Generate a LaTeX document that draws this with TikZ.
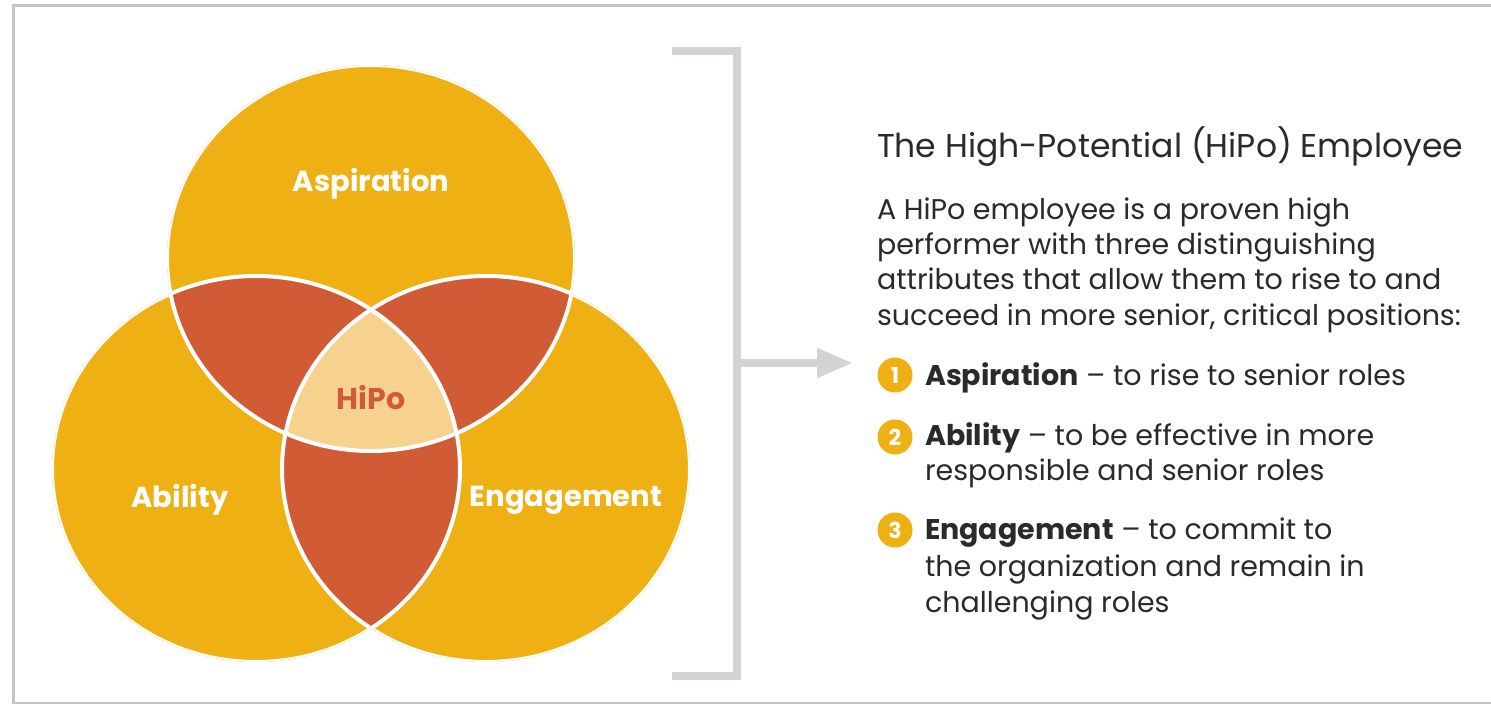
\documentclass[tikz,border=0pt]{standalone}
\usepackage{fontspec}
\setmainfont{Poppins}
\usetikzlibrary{arrows.meta}
\definecolor{gold}{HTML}{EFB014}
\definecolor{rust}{HTML}{D05B35}
\definecolor{cream}{HTML}{F6D28E}
\definecolor{framegray}{HTML}{C4C4C4}
\definecolor{bracketgray}{HTML}{D1D3D4}
\definecolor{ink}{HTML}{2A2A2A}
\begin{document}
\begin{tikzpicture}[x=1pt,y=-1pt,
  every node/.style={inner sep=0pt, outer sep=0pt},
  lbl/.style={font=\fontsize{29}{29}\selectfont\bfseries, text=white},
  title/.style={font=\fontsize{33}{33}\selectfont, text=ink, anchor=base west},
  body/.style={font=\fontsize{28.5}{28.5}\selectfont, text=ink, anchor=base west},
  num/.style={circle, fill=gold, minimum size=35pt, text=white,
    font=\fontsize{22}{22}\selectfont\bfseries},
  rail/.style={bracketgray, line width=8pt}]
\useasboundingbox (0,0) rectangle (1491,704);
\clip (0,0) rectangle (1491,704);
\fill[white] (0,0) rectangle (1491,704);
% outer frame, open past the right edge
\draw[framegray, line width=3pt] (13,5.5) rectangle (1510,703.5);

% three overlapping ellipses
\fill[gold] (371,258) ellipse [x radius=204pt, y radius=193pt];
\fill[gold] (256,469) ellipse [x radius=204pt, y radius=193pt];
\fill[gold] (486,469) ellipse [x radius=204pt, y radius=193pt];
% pairwise overlaps
\begin{scope}
  \clip (371,258) ellipse [x radius=204pt, y radius=193pt];
  \fill[rust] (256,469) ellipse [x radius=204pt, y radius=193pt];
  \fill[rust] (486,469) ellipse [x radius=204pt, y radius=193pt];
\end{scope}
\begin{scope}
  \clip (256,469) ellipse [x radius=204pt, y radius=193pt];
  \fill[rust] (486,469) ellipse [x radius=204pt, y radius=193pt];
\end{scope}
% common core
\begin{scope}
  \clip (371,258) ellipse [x radius=204pt, y radius=193pt];
  \clip (256,469) ellipse [x radius=204pt, y radius=193pt];
  \fill[cream] (486,469) ellipse [x radius=204pt, y radius=193pt];
\end{scope}
% white seams, kept inside the union
\begin{scope}
  \clip (371,258) ellipse [x radius=204pt, y radius=193pt]
        (256,469) ellipse [x radius=204pt, y radius=193pt]
        (486,469) ellipse [x radius=204pt, y radius=193pt];
  \draw[white, line width=4pt]
        (371,258) ellipse [x radius=204pt, y radius=193pt]
        (256,469) ellipse [x radius=204pt, y radius=193pt]
        (486,469) ellipse [x radius=204pt, y radius=193pt];
\end{scope}

\node[lbl] (asp) at (371,184) {Aspiration};
\node[lbl] (abl) at (180,500) {Ability};
\node[lbl] (eng) at (566,500) {Engagement};
\node[lbl, text=rust, font=\fontsize{30}{30}\selectfont\bfseries] (hipo) at (371,398) {HiPo};

% bracket and arrow
\draw[rail] (672,50.5) -- (736.5,50.5) -- (736.5,675.5) -- (672,675.5);
\coordinate (brk) at (736.5,363);
\coordinate (tip) at (853,363);
\draw[rail, -{Triangle[length=36pt,width=28pt]}] (brk) -- (tip);

% description
\node[title] (ttl) at (877,157) {The High-Potential (HiPo) Employee};
\node[body] (d1) at (877,219) {A HiPo employee is a proven high};
\node[body] (d2) at (877,254) {performer with three distinguishing};
\node[body] (d3) at (877,289) {attributes that allow them to rise to and};
\node[body] (d4) at (877,325) {succeed in more senior, critical positions:};

\node[num] (n1) at (895,375) {1};
\node[num] (n2) at (895,437) {2};
\node[num] (n3) at (895,530) {3};

\node[body] (i1) at (925,385) {\textbf{Aspiration} -- to rise to senior roles};
\node[body] (i2a) at (925,445) {\textbf{Ability} -- to be effective in more};
\node[body] (i2b) at (925,480) {responsible and senior roles};
\node[body] (i3a) at (925,539) {\textbf{Engagement} -- to commit to};
\node[body] (i3b) at (925,576) {the organization and remain in};
\node[body] (i3c) at (925,612) {challenging roles};
\end{tikzpicture}
\end{document}
